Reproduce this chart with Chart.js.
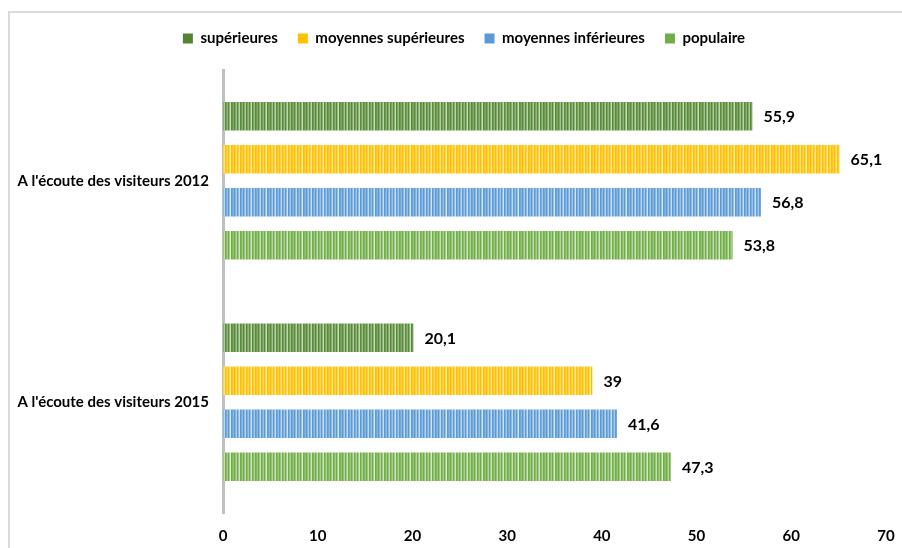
<!DOCTYPE html>
<html><head><meta charset="utf-8">
<script src="https://cdn.jsdelivr.net/npm/chart.js@4"></script>
<style>
html,body{margin:0;padding:0;background:#fff;overflow:hidden}
#wrap{position:absolute;left:0;top:0;width:902px;height:548px}
#frame{position:absolute;left:8px;top:11px;width:1000px;height:1000px;border-top:2px solid #d9d9d9;border-left:2px solid #d9d9d9;box-sizing:border-box;pointer-events:none}
</style></head>
<body>
<div id="wrap"><canvas id="c" width="902" height="548"></canvas></div>
<div id="frame"></div>
<script>
const categories = ["A l'écoute des visiteurs 2012", "A l'écoute des visiteurs 2015"];
const seriesNames = ["supérieures", "moyennes supérieures", "moyennes inférieures", "populaire"];
const superieures = [55.9, 20.1];
const moyennesSuperieures = [65.1, 39];
const moyennesInferieures = [56.8, 41.6];
const populaire = [53.8, 47.3];
const xTicks = [0, 10, 20, 30, 40, 50, 60, 70];

const FONT = "Lato, 'Open Sans', sans-serif";

function stripePattern(dark, light) {
  const cv = document.createElement('canvas');
  const w = 36;
  cv.width = w; cv.height = 4;
  const g = cv.getContext('2d');
  g.fillStyle = dark; g.fillRect(0, 0, w, 4);
  // fixed stripe layout (styling only): alpha of light colour per 3px step
  const alphas = [0.55, 0.35, 0.75, 0.45, 0.9, 0.3, 0.6, 0.8, 0.4, 0.7, 0.5, 0.85];
  alphas.forEach((a, k) => {
    const x = k * 3;
    g.globalAlpha = a * 0.5; g.fillStyle = light; g.fillRect(x + 1, 0, 1, 4);
    g.globalAlpha = a; g.fillRect(x + 2, 0, 1, 4);
  });
  g.globalAlpha = 1;
  return g.createPattern(cv, 'repeat');
}

const solidColors = ['#548235', '#ffc000', '#5b9bd5', '#70ad47'];
const patterns = [
  stripePattern('#5a8a3c', '#d2e6c4'),
  stripePattern('#ffc000', '#fff0c2'),
  stripePattern('#5b9bd5', '#e3eef9'),
  stripePattern('#70ad47', '#e6f2dd')
];
const values = [superieures, moyennesSuperieures, moyennesInferieures, populaire];

const labelPlugin = {
  id: 'vlabels',
  afterDatasetsDraw(chart) {
    const ctx = chart.ctx;
    ctx.save();
    ctx.font = "bold 16px " + FONT;
    ctx.fillStyle = '#000';
    ctx.textBaseline = 'middle';
    ctx.textAlign = 'left';
    chart.data.datasets.forEach((ds, i) => {
      chart.getDatasetMeta(i).data.forEach((bar, j) => {
        const v = ds.data[j];
        ctx.fillText(String(v).replace('.', ','), bar.x + 11, bar.y + 1);
      });
    });
    ctx.restore();
  }
};

const legendHeightPlugin = {
  id: 'legendHeight',
  afterInit(chart) {
    const lg = chart.legend;
    if (!lg) return;
    const orig = lg.fit;
    lg.fit = function () { orig.call(this); this.height = 59; };
  },
  afterLayout(chart) {
    const lg = chart.legend;
    if (!lg) return;
    lg.left += 15; lg.right += 15;
  }
};

new Chart(document.getElementById('c'), {
  type: 'bar',
  data: {
    labels: categories,
    datasets: seriesNames.map((n, i) => ({
      label: n,
      data: values[i],
      backgroundColor: patterns[i],
      borderWidth: 0,
      barPercentage: 0.66,
      categoryPercentage: 0.777
    }))
  },
  options: {
    indexAxis: 'y',
    responsive: false,
    animation: false,
    devicePixelRatio: 1,
    layout: { padding: { top: 11, right: 16, bottom: 0, left: 12 } },
    plugins: {
      legend: {
        position: 'top',
        labels: {
          font: { family: FONT, size: 15, weight: 'bold' },
          color: '#000',
          boxWidth: 10, boxHeight: 10,
          padding: 20,
          generateLabels(chart) {
            return seriesNames.map((n, i) => ({
              text: n, fillStyle: solidColors[i], strokeStyle: solidColors[i],
              lineWidth: 0, datasetIndex: i, fontColor: '#000'
            }));
          }
        }
      },
      tooltip: { enabled: false }
    },
    scales: {
      x: {
        min: 0, max: 70,
        afterBuildTicks(scale) { scale.ticks = xTicks.map(v => ({ value: v })); },
        grid: { display: false, drawTicks: false },
        border: { display: false },
        ticks: { font: { family: FONT, size: 15, weight: 'bold' }, color: '#000', padding: 14 },
        afterFit(scale) { scale.height = 35; scale.paddingRight = 0; scale.paddingLeft = 0; }
      },
      y: {
        grid: { display: false, drawTicks: false },
        border: { display: true, color: '#bfbfbf', width: 3 },
        ticks: { font: { family: FONT, size: 15, weight: 'bold' }, color: '#000', padding: 14 },
        afterFit(scale) { scale.width = 211; }
      }
    }
  },
  plugins: [labelPlugin, legendHeightPlugin]
});
</script>
</body></html>
